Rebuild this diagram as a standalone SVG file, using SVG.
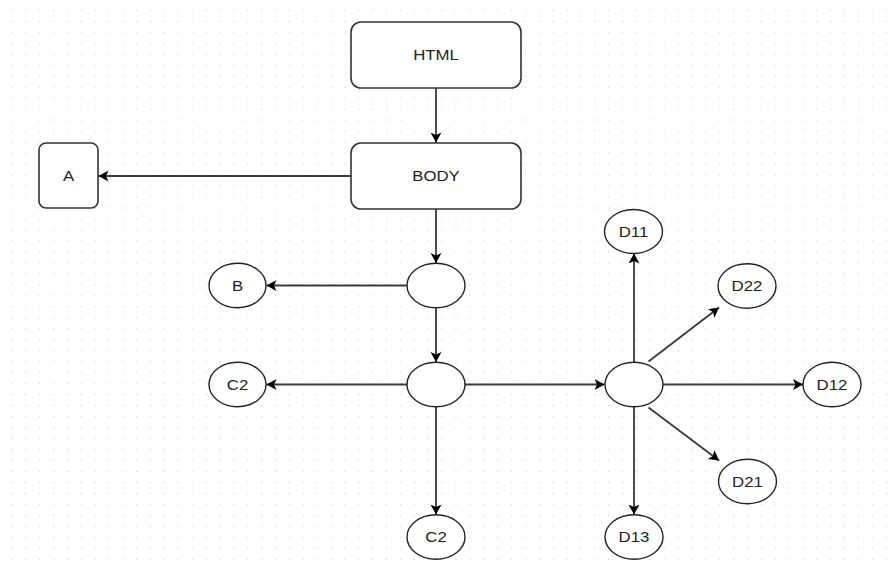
<svg xmlns="http://www.w3.org/2000/svg" width="893" height="562" viewBox="0 0 893 562">
  <defs>
    <pattern id="grid" patternUnits="userSpaceOnUse" x="11.2" y="9.8" width="13.88" height="10.98">
      <rect x="0" y="0" width="1.2" height="1.1" fill="#cfcfcf"/>
    </pattern>
    <marker id="arr" markerUnits="userSpaceOnUse" markerWidth="13" markerHeight="12" refX="10" refY="5.5" orient="auto">
      <path d="M0,0 L10,5.5 L0,11 L2.5,5.5 z" fill="#000"/>
    </marker>
  </defs>
  <style>
    .box { fill: #fff; stroke: #333; stroke-width: 1.6; }
    .ell { fill: #fff; stroke: #222; stroke-width: 1.4; }
    .lbl { font-family: "Liberation Sans", Arial, sans-serif; font-size: 14px; fill: #222; text-anchor: middle; }
    .edge { fill: none; stroke: #3a3a3a; stroke-width: 1.8; marker-end: url(#arr); }
  </style>
  <rect x="0" y="0" width="893" height="562" fill="#fff"/>
  <rect x="0" y="0" width="893" height="562" fill="url(#grid)"/>

  <g id="connectors">
    <line class="edge" x1="436" y1="88" x2="436" y2="142.5"/>
    <line class="edge" x1="351" y1="176" x2="98.5" y2="176"/>
    <line class="edge" x1="436" y1="209" x2="436" y2="263"/>
    <line class="edge" x1="407" y1="285.5" x2="266.5" y2="285.5"/>
    <line class="edge" x1="436" y1="308" x2="436" y2="362"/>
    <line class="edge" x1="407" y1="384.5" x2="266.5" y2="384.5"/>
    <line class="edge" x1="465" y1="384.5" x2="604.5" y2="384.5"/>
    <line class="edge" x1="436" y1="407" x2="436" y2="514.5"/>
    <line class="edge" x1="634" y1="362" x2="634" y2="253.5"/>
    <line class="edge" x1="648.5" y1="361.5" x2="719" y2="307.5"/>
    <line class="edge" x1="663" y1="384.5" x2="803" y2="384.5"/>
    <line class="edge" x1="648.5" y1="407.5" x2="719" y2="460.5"/>
    <line class="edge" x1="634" y1="407" x2="634" y2="514.5"/>
  </g>

  <g id="html">
    <rect class="box" x="351" y="22" width="170" height="66" rx="10"/>
    <text class="lbl" transform="translate(436,60) scale(1.2,1)">HTML</text>
  </g>
  <g id="body">
    <rect class="box" x="351" y="143" width="170" height="66" rx="10"/>
    <text class="lbl" transform="translate(436,181) scale(1.2,1)">BODY</text>
  </g>
  <g id="a">
    <rect class="box" x="39" y="143" width="59" height="65" rx="7"/>
    <text class="lbl" transform="translate(68.5,181) scale(1.2,1)">A</text>
  </g>
  <g id="n1">
    <ellipse class="ell" cx="436" cy="285.5" rx="29" ry="22.2"/>
  </g>
  <g id="b">
    <ellipse class="ell" cx="237.5" cy="285.5" rx="28.5" ry="22.2"/>
    <text class="lbl" transform="translate(237.5,290.5) scale(1.2,1)">B</text>
  </g>
  <g id="n2">
    <ellipse class="ell" cx="436" cy="384.5" rx="29" ry="22.2"/>
  </g>
  <g id="c2a">
    <ellipse class="ell" cx="237.5" cy="384.5" rx="28.5" ry="22.2"/>
    <text class="lbl" transform="translate(237.5,389.5) scale(1.2,1)">C2</text>
  </g>
  <g id="c2b">
    <ellipse class="ell" cx="436" cy="537" rx="29" ry="22.2"/>
    <text class="lbl" transform="translate(436,542) scale(1.2,1)">C2</text>
  </g>
  <g id="hub">
    <ellipse class="ell" cx="634" cy="384.5" rx="29" ry="22.2"/>
  </g>
  <g id="d11">
    <ellipse class="ell" cx="633.5" cy="231.5" rx="29" ry="22"/>
    <text class="lbl" transform="translate(633.5,236.5) scale(1.2,1)">D11</text>
  </g>
  <g id="d22">
    <ellipse class="ell" cx="747" cy="286" rx="29" ry="22.2"/>
    <text class="lbl" transform="translate(747,291) scale(1.2,1)">D22</text>
  </g>
  <g id="d12">
    <ellipse class="ell" cx="832" cy="384.5" rx="29" ry="22.2"/>
    <text class="lbl" transform="translate(832,389.5) scale(1.2,1)">D12</text>
  </g>
  <g id="d21">
    <ellipse class="ell" cx="747.5" cy="481.5" rx="29" ry="22.2"/>
    <text class="lbl" transform="translate(747.5,486.5) scale(1.2,1)">D21</text>
  </g>
  <g id="d13">
    <ellipse class="ell" cx="634" cy="537" rx="29" ry="22.2"/>
    <text class="lbl" transform="translate(634,542) scale(1.2,1)">D13</text>
  </g>
</svg>
